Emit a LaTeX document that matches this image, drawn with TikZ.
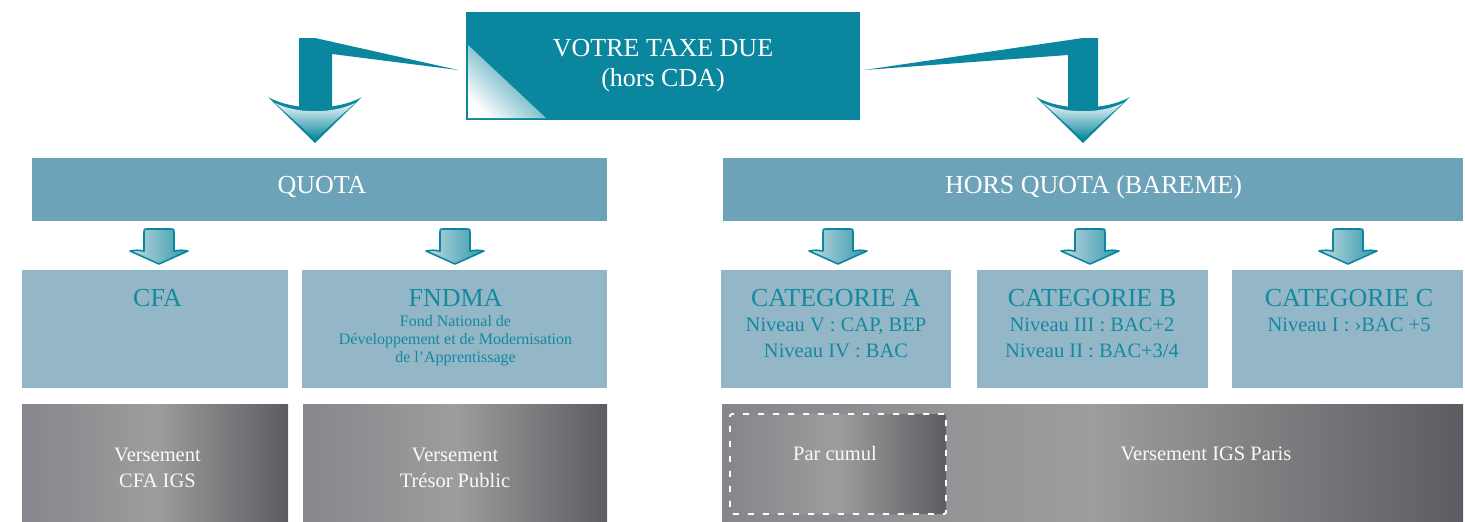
\documentclass[tikz,border=0pt]{standalone}
\usepackage{fontspec}
\setmainfont{Liberation Serif}
\definecolor{boxteal}{HTML}{0A879E}
\definecolor{barcol}{HTML}{6CA3B8}
\definecolor{lvlcol}{HTML}{94B7C8}
\definecolor{lvltext}{HTML}{14899F}
\definecolor{gL}{HTML}{86868C}
\definecolor{gM}{HTML}{9D9D9D}
\definecolor{gR}{HTML}{5D5C62}
\definecolor{arrlight}{HTML}{C4D8E0}
\begin{document}
\begin{tikzpicture}[x=1pt,y=-1pt,
  every node/.style={inner sep=0pt, outer sep=0pt},
  topbox/.style={fill=boxteal, minimum width=394pt, minimum height=108pt},
  barbox/.style={fill=barcol, minimum height=63pt},
  lvlbox/.style={fill=lvlcol, minimum height=118pt},
  greybox/.style={left color=gL, right color=gR, middle color=gM, minimum height=119pt},
  whitetxt/.style={text=white!95!gray, anchor=base},
  lvltitle/.style={text=lvltext, anchor=base, font=\fontsize{26}{28}\selectfont},
  lvlsub/.style={text=lvltext, anchor=base, font=\fontsize{20.5}{22}\selectfont},
  lvlsmall/.style={text=lvltext, anchor=base, font=\fontsize{16}{18}\selectfont},
  sarrow/.pic={
    \path[draw=boxteal, line width=1.6pt, left color=arrlight, right color=boxteal!85!white, line join=round]
      (-15,22) -- (-15,3) .. controls (-15,0) .. (-12,0) -- (12,0) .. controls (15,0) .. (15,3) -- (15,22)
      .. controls (22,21) .. (29,22) -- (0,35) -- (-29,22) .. controls (-22,21) .. (-15,22) -- cycle;
  },
  bighead/.pic={
    \fill[boxteal] (-47,0) .. controls (-22,14) and (22,14) .. (47,0) -- (0,46) -- cycle;
    \path[top color=white!92!boxteal, bottom color=boxteal] (-40,6) .. controls (-18,17) and (18,17) .. (40,6) -- (0,42) -- cycle;
  }
]
\useasboundingbox (0,0) rectangle (1465,522);

% top box
\node[topbox] (top) at (663,66) {};
\begin{scope}
  \clip (468,45) -- (468,118) -- (546,118) -- cycle;
  \shade[top color=boxteal, bottom color=white, shading angle=-45] (466,40) rectangle (550,120);
\end{scope}
\node[whitetxt, text=white, font=\fontsize{26}{28}\selectfont] (t1) at (663,56) {VOTRE TAXE DUE};
\node[whitetxt, text=white, font=\fontsize{26}{28}\selectfont] (t2) at (663,86) {(hors CDA)};

% big left arrow
\fill[boxteal] (299,38) -- (315,38) -- (458,70) -- (332,54) -- (332,108) -- (299,108) -- cycle;
\pic at (315,97) {bighead};
% big right arrow
\fill[boxteal] (864,70) -- (1083,38) -- (1098,38) -- (1098,108) -- (1068,108) -- (1068,55) -- cycle;
\pic at (1083,97) {bighead};

% bars
\node[barbox, minimum width=575pt] (quota) at (319.5,189.5) {};
\node[whitetxt, text=white, font=\fontsize{26}{28}\selectfont] (quotat) at (322,193) {QUOTA};
\node[barbox, minimum width=740pt] (hors) at (1093,189.5) {};
\node[whitetxt, text=white, font=\fontsize{26}{28}\selectfont] (horst) at (1093.5,193) {HORS QUOTA (BAREME)};

% small arrows
\pic at (159,229) {sarrow};
\pic at (455,229) {sarrow};
\pic at (838,229) {sarrow};
\pic at (1090,229) {sarrow};
\pic at (1348,229) {sarrow};

% level 2 boxes
\node[lvlbox, minimum width=266pt] (cfa) at (155,329) {};
\node[lvlbox, minimum width=305pt] (fndma) at (454.5,329) {};
\node[lvlbox, minimum width=230pt] (cata) at (836,329) {};
\node[lvlbox, minimum width=231pt] (catb) at (1092.5,329) {};
\node[lvlbox, minimum width=231pt] (catc) at (1347.5,329) {};

\node[lvltitle] (cfat) at (157.5,306) {CFA};
\node[lvltitle] (fndmat) at (455.5,306) {FNDMA};
\node[lvlsmall] (f1) at (455.5,326) {Fond National de};
\node[lvlsmall] (f2) at (455.5,344) {Développement et de Modernisation};
\node[lvlsmall] (f3) at (455.5,362) {de l’Apprentissage};

\node[lvltitle] (catat) at (836,306) {CATEGORIE A};
\node[lvlsub] (a1) at (836,331) {Niveau V : CAP, BEP};
\node[lvlsub] (a2) at (836,357) {Niveau IV : BAC};
\node[lvltitle] (catbt) at (1092,306) {CATEGORIE B};
\node[lvlsub] (b1) at (1092,331) {Niveau III : BAC+2};
\node[lvlsub] (b2) at (1092,357) {Niveau II : BAC+3/4};
\node[lvltitle] (catct) at (1349,306) {CATEGORIE C};
\node[lvlsub] (c1) at (1349,331) {Niveau I : ›BAC +5};

% bottom boxes
\node[greybox, minimum width=266pt] (vcfa) at (155,463.5) {};
\node[greybox, minimum width=304pt] (vtresor) at (455,463.5) {};
\node[greybox, minimum width=741pt] (vigs) at (1092.5,463.5) {};
\node[greybox, minimum width=216pt, minimum height=100pt, draw=white, line width=1.8pt, dash pattern=on 6pt off 9pt, rounded corners=2pt] (cumul) at (838,464) {};

\node[whitetxt, font=\fontsize{20.5}{22}\selectfont] (v1) at (157.5,461) {Versement};
\node[whitetxt, font=\fontsize{20.5}{22}\selectfont] (v2) at (157.5,487) {CFA IGS};
\node[whitetxt, font=\fontsize{20.5}{22}\selectfont] (v3) at (455,461) {Versement};
\node[whitetxt, font=\fontsize{20.5}{22}\selectfont] (v4) at (455,487) {Trésor Public};
\node[whitetxt, font=\fontsize{20.5}{22}\selectfont] (v5) at (835,460) {Par cumul};
\node[whitetxt, font=\fontsize{20.5}{22}\selectfont] (v6) at (1206,460) {Versement IGS Paris};
\end{tikzpicture}
\end{document}
